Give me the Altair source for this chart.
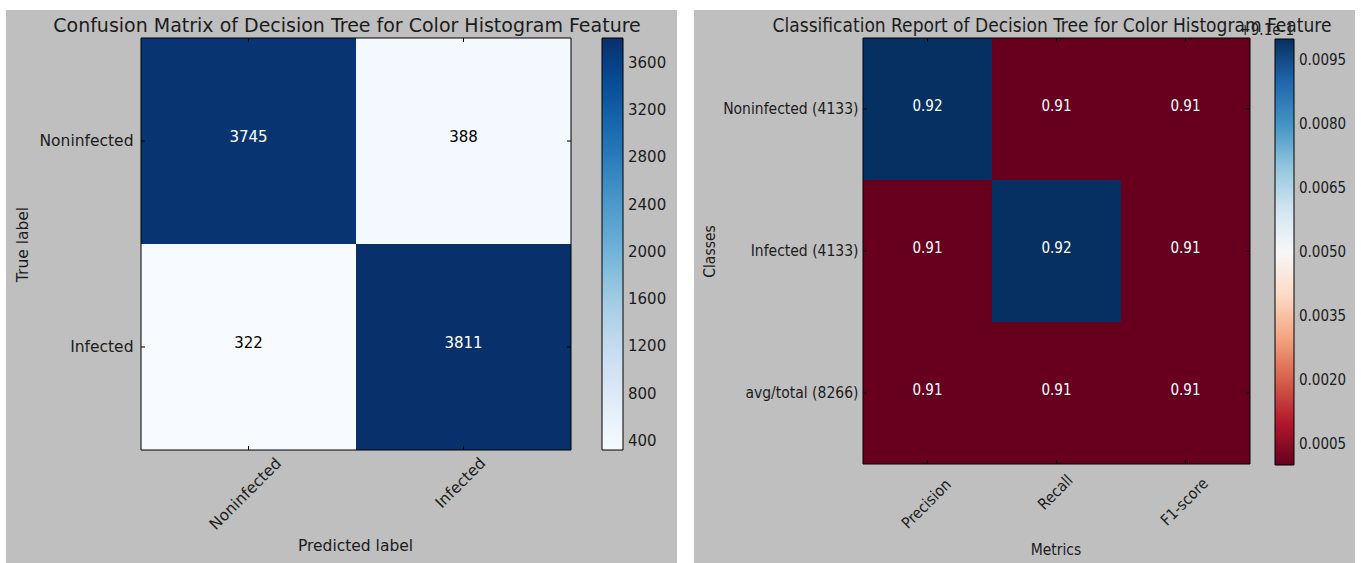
import altair as alt
import pandas as pd

# ---------------- data ----------------
classes = ["Noninfected", "Infected"]
cm_values = [[3745, 388], [322, 3811]]
cm_ticks = [400, 800, 1200, 1600, 2000, 2400, 2800, 3200, 3600]

report_rows = ["Noninfected (4133)", "Infected (4133)", "avg/total (8266)"]
report_cols = ["Precision", "Recall", "F1-score"]
report_values = [[0.92, 0.91, 0.91],
                 [0.91, 0.92, 0.91],
                 [0.91, 0.91, 0.91]]
report_ticks = [0.9105, 0.9120, 0.9135, 0.9150, 0.9165, 0.9180, 0.9195]
report_domain = [0.91, 0.92]
report_offset = 0.91
report_offset_text = "+9.1e-1"

title_left = "Confusion Matrix of Decision Tree for Color Histogram Feature"
title_right = "Classification Report of Decision Tree for Color Histogram Feature"

# ---------------- styles ----------------
GRAY = "#bfbfbf"
INK = "#1c1c1c"
FONT_L = "DejaVu Sans"
FONT_R = "DejaVu Sans Condensed, DejaVu Sans"

blues = ["#f7fbff", "#deebf7", "#c6dbef", "#9ecae1", "#6baed6",
         "#4292c6", "#2171b5", "#08519c", "#08306b"]
rdbu = ["#67001f", "#b2182b", "#d6604d", "#f4a582", "#fddbc7", "#f7f7f7",
        "#d1e5f0", "#92c5de", "#4393c3", "#2166ac", "#053061"]


def stops(lo, hi, n):
    return [lo + (hi - lo) * i / (n - 1) for i in range(n)]


def cond_num(mapping, default):
    return {"condition": [{"test": f"datum.value === '{k}'", "value": v}
                          for k, v in mapping.items()],
            "value": default}


one = pd.DataFrame({"k": [0]})

# ================= LEFT: confusion matrix =================
W1, H1 = 430, 412
cm_df = pd.DataFrame([
    {"true": classes[i], "pred": classes[j], "count": cm_values[i][j]}
    for i in range(len(classes)) for j in range(len(classes))
])
cm_min = min(min(r) for r in cm_values)
cm_max = max(max(r) for r in cm_values)
thresh = cm_max / 2.0

xL = alt.X("pred:N", sort=classes,
           scale=alt.Scale(paddingInner=0, paddingOuter=0),
           axis=alt.Axis(title="Predicted label", labelAngle=-45,
                         labelAlign="center", labelBaseline="middle",
                         labelPadding=cond_num({"Noninfected": 43.5}, 32.5),
                         labelOffset=-3, ticks=False, tickSize=0, domain=False,
                         labelFont=FONT_L, labelFontSize=15.5, labelColor=INK,
                         titleFont=FONT_L, titleFontSize=15.5, titleColor=INK,
                         titleFontWeight="normal", titleX=W1 / 2 - 1, titleY=95,
                         titleBaseline="middle", labelOverlap=False,
                         labelLimit=400, zindex=2))
yL = alt.Y("true:N", sort=classes,
           scale=alt.Scale(paddingInner=0, paddingOuter=0),
           axis=alt.Axis(title="True label", labelPadding=8, ticks=False,
                         tickSize=0, domain=False, labelAngle=0,
                         labelFont=FONT_L, labelFontSize=15.5, labelColor=INK,
                         titleFont=FONT_L, titleFontSize=15.5, titleColor=INK,
                         titleFontWeight="normal", titleX=-119, titleY=H1 / 2,
                         titleBaseline="middle", titleAngle=-90,
                         labelLimit=400, zindex=2))

bgL = alt.Chart(one).mark_rect(color=GRAY).encode(
    x=alt.value(-135), x2=alt.value(536), y=alt.value(-28), y2=alt.value(525))

heatL = alt.Chart(cm_df).mark_rect().encode(
    x=xL, y=yL,
    color=alt.Color("count:Q",
                    scale=alt.Scale(domain=stops(cm_min, cm_max, len(blues)),
                                    range=blues, interpolate="rgb"),
                    legend=alt.Legend(orient="none", legendX=461, legendY=0,
                                      direction="vertical", title=None,
                                      gradientLength=H1, gradientThickness=21,
                                      gradientStrokeColor="black",
                                      gradientStrokeWidth=1, values=cm_ticks,
                                      format="d",
                                      labelFont=FONT_L, labelFontSize=15,
                                      labelColor=INK, labelOffset=5,
                                      labelOverlap=False, padding=0)))

textL = alt.Chart(cm_df).mark_text(font=FONT_L, fontSize=15, dy=-4,
                                   baseline="middle").encode(
    x=xL, y=yL, text="count:Q",
    color=alt.condition(f"datum['count'] > {thresh}",
                        alt.value("white"), alt.value("black")))

tickdfL_x = pd.DataFrame({"pred": classes})
tickdfL_y = pd.DataFrame({"true": classes})
ticksL = [
    alt.Chart(tickdfL_x).mark_rule(color="black").encode(
        x=xL, y=alt.value(H1), y2=alt.value(H1 - 4)),
    alt.Chart(tickdfL_x).mark_rule(color="black").encode(
        x=xL, y=alt.value(0), y2=alt.value(4)),
    alt.Chart(tickdfL_y).mark_rule(color="black").encode(
        y=yL, x=alt.value(0), x2=alt.value(4)),
    alt.Chart(tickdfL_y).mark_rule(color="black").encode(
        y=yL, x=alt.value(W1), x2=alt.value(W1 - 4)),
]
frameL = alt.Chart(one).mark_rect(fillOpacity=0, stroke="black",
                                  strokeWidth=1).encode(
    x=alt.value(0), x2=alt.value(W1), y=alt.value(0), y2=alt.value(H1))

titleL = alt.Chart(pd.DataFrame({"t": [title_left]})).mark_text(
    font=FONT_L, fontSize=19, color=INK, align="center",
    baseline="alphabetic").encode(
    x=alt.value(206), y=alt.value(-6), text="t:N")

left = alt.layer(bgL, heatL, textL, *ticksL, frameL, titleL).properties(
    width=W1, height=H1)

# ================= RIGHT: classification report =================
W2, H2 = 387, 426
rep_df = pd.DataFrame([
    {"row": report_rows[i], "col": report_cols[j], "v": report_values[i][j],
     "txt": f"{report_values[i][j]:.2f}"}
    for i in range(len(report_rows)) for j in range(len(report_cols))
])

xR = alt.X("col:N", sort=report_cols,
           scale=alt.Scale(paddingInner=0, paddingOuter=0),
           axis=alt.Axis(title="Metrics", labelAngle=-45,
                         labelAlign="center", labelBaseline="middle",
                         labelPadding=cond_num({"Precision": 39.5,
                                                "Recall": 28}, 37.5),
                         labelOffset=-1, ticks=False, tickSize=0, domain=False,
                         labelFont=FONT_R, labelFontSize=15.5, labelColor=INK,
                         titleFont=FONT_R, titleFontSize=15.5, titleColor=INK,
                         titleFontWeight="normal", titleX=W2 / 2 - 1, titleY=85,
                         titleBaseline="middle", labelOverlap=False,
                         labelLimit=400, zindex=2))
yR = alt.Y("row:N", sort=report_rows,
           scale=alt.Scale(paddingInner=0, paddingOuter=0),
           axis=alt.Axis(title="Classes", labelPadding=5, ticks=False,
                         tickSize=0, domain=False, labelAngle=0,
                         labelFont=FONT_R, labelFontSize=15.5, labelColor=INK,
                         titleFont=FONT_R, titleFontSize=15.5, titleColor=INK,
                         titleFontWeight="normal", titleX=-154, titleY=H2 / 2,
                         titleBaseline="middle", titleAngle=-90,
                         labelLimit=400, zindex=2))

bgR = alt.Chart(one).mark_rect(color=GRAY).encode(
    x=alt.value(-169), x2=alt.value(492), y=alt.value(-28), y2=alt.value(525))

heatR = alt.Chart(rep_df).mark_rect().encode(
    x=xR, y=yR,
    color=alt.Color("v:Q",
                    scale=alt.Scale(domain=stops(report_domain[0],
                                                 report_domain[1], len(rdbu)),
                                    range=rdbu, interpolate="rgb"),
                    legend=alt.Legend(orient="none", legendX=412, legendY=1,
                                      direction="vertical", title=None,
                                      gradientLength=H2,
                                      gradientThickness=19,
                                      gradientStrokeColor="black",
                                      gradientStrokeWidth=1,
                                      values=report_ticks,
                                      labelExpr=f"format(datum.value - {report_offset}, '.4f')",
                                      labelFont=FONT_R, labelFontSize=15,
                                      labelColor=INK, labelOffset=5,
                                      labelOverlap=False, padding=0)))

textR = alt.Chart(rep_df).mark_text(font=FONT_R, fontSize=15, dy=-3,
                                    baseline="middle", color="white").encode(
    x=xR, y=yR, text="txt:N")

tickdfR_x = pd.DataFrame({"col": report_cols})
tickdfR_y = pd.DataFrame({"row": report_rows})
ticksR = [
    alt.Chart(tickdfR_x).mark_rule(color="black").encode(
        x=xR, y=alt.value(H2), y2=alt.value(H2 - 4)),
    alt.Chart(tickdfR_x).mark_rule(color="black").encode(
        x=xR, y=alt.value(0), y2=alt.value(4)),
    alt.Chart(tickdfR_y).mark_rule(color="black").encode(
        y=yR, x=alt.value(0), x2=alt.value(4)),
    alt.Chart(tickdfR_y).mark_rule(color="black").encode(
        y=yR, x=alt.value(W2), x2=alt.value(W2 - 4)),
]
frameR = alt.Chart(one).mark_rect(fillOpacity=0, stroke="black",
                                  strokeWidth=1).encode(
    x=alt.value(0), x2=alt.value(W2), y=alt.value(0), y2=alt.value(H2))

titleR = alt.Chart(pd.DataFrame({"t": [title_right]})).mark_text(
    font=FONT_R, fontSize=19, color=INK, align="center",
    baseline="alphabetic").encode(
    x=alt.value(189), y=alt.value(-6), text="t:N")

offsetR = alt.Chart(pd.DataFrame({"t": [report_offset_text]})).mark_text(
    font=FONT_R, fontSize=15, color=INK, align="right",
    baseline="alphabetic").encode(
    x=alt.value(431), y=alt.value(-3), text="t:N")

right = alt.layer(bgR, heatR, textR, *ticksR, frameR, titleR, offsetR
                  ).properties(width=W2, height=H2)

chart = alt.hconcat(left, right, spacing=292, bounds="flush").resolve_scale(
    color="independent"
).properties(
    padding={"left": 6, "top": 10, "right": 6, "bottom": 0},
    autosize=alt.AutoSizeParams(type="pad"),
    background="white",
).configure_view(strokeWidth=0)

chart.save("out.html", embed_options={"renderer": "svg", "actions": False})
